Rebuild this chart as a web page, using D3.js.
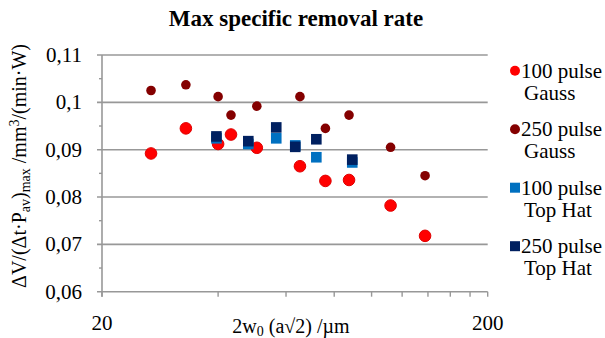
<!DOCTYPE html>
<html><head><meta charset="utf-8">
<script src="https://cdn.jsdelivr.net/npm/d3@7"></script>
<style>body{margin:0;background:#fff}svg{display:block}</style>
</head><body>
<script>
const xGauss = [26.8, 33.0, 40.0, 43.2, 50.4, 65.2, 75.9, 87.4, 112, 137.6];
const y100Gauss = [0.0892, 0.0945, 0.0912, 0.0932, 0.0904, 0.0865, 0.0834, 0.0836, 0.0782, 0.0718];
const y250Gauss = [0.1025, 0.1037, 0.1012, 0.0973, 0.0992, 0.1012, 0.0945, 0.0973, 0.0905, 0.0845];
const xTopHat = [39.6, 47.9, 56.6, 63.4, 71.9, 89.1];
const y100TopHat = [0.0924, 0.0912, 0.0924, 0.0909, 0.0884, 0.0873];
const y250TopHat = [0.0928, 0.0918, 0.0947, 0.0906, 0.0922, 0.0879];
const yTicks = [0.06, 0.07, 0.08, 0.09, 0.1, 0.11];
const yTickLabels = ["0,06", "0,07", "0,08", "0,09", "0,1", "0,11"];
const xTicks = [20, 200];
const xTickLabels = ["20", "200"];
const xMinorTicks = [40, 60, 80, 100, 120, 140, 160, 180];
const seriesNames = [["100 pulse", "Gauss"], ["250 pulse", "Gauss"], ["100 pulse", "Top Hat"], ["250 pulse", "Top Hat"]];

const W = 605, H = 338;
const FONT = "'Liberation Serif', 'Times New Roman', Times, 'DejaVu Serif', serif";
const svg = d3.select("body").append("svg").attr("width", W).attr("height", H)
  .attr("font-family", FONT).style("font-family", FONT);
const x = d3.scaleLog().domain([20, 200]).range([102, 487.7]);
const y = d3.scaleLinear().domain([0.06, 0.11]).range([291.7, 55]);
const grid = "#989898";

// title
svg.append("text").attr("x", 296).attr("y", 26).attr("text-anchor", "middle")
  .attr("font-size", 23).attr("font-weight", "bold").text("Max specific removal rate");

// gridlines
svg.append("g").selectAll("line").data(yTicks).join("line")
  .attr("x1", x(20) - 5).attr("x2", x(200)).attr("y1", d => y(d)).attr("y2", d => y(d))
  .attr("stroke", grid).attr("stroke-width", 1.6);
// minor y ticks
const yMinor = yTicks.slice(0, -1).map(d => d + 0.005);
svg.append("g").selectAll("line").data(yMinor).join("line")
  .attr("x1", x(20) - 3).attr("x2", x(20)).attr("y1", d => y(d)).attr("y2", d => y(d))
  .attr("stroke", grid).attr("stroke-width", 1.4);
// y axis line
svg.append("line").attr("x1", x(20)).attr("x2", x(20)).attr("y1", y(0.11)).attr("y2", y(0.06) + 5)
  .attr("stroke", grid).attr("stroke-width", 1.6);
// x ticks
svg.append("g").selectAll("line").data(xTicks.concat(xMinorTicks)).join("line")
  .attr("x1", d => x(d)).attr("x2", d => x(d)).attr("y1", y(0.06)).attr("y2", y(0.06) + 5)
  .attr("stroke", grid).attr("stroke-width", 1.4);

// y tick labels
svg.append("g").selectAll("text").data(yTicks).join("text")
  .attr("x", 82).attr("y", d => y(d) + 7).attr("text-anchor", "end")
  .attr("font-size", 21).text((d, i) => yTickLabels[i]);
// x tick labels
svg.append("g").selectAll("text").data(xTicks).join("text")
  .attr("x", d => x(d)).attr("y", 330).attr("text-anchor", "middle")
  .attr("font-size", 21).text((d, i) => xTickLabels[i]);

// x axis title
const xt = svg.append("text").attr("x", 291).attr("y", 333).attr("text-anchor", "middle").attr("font-size", 20);
xt.append("tspan").text("2w");
xt.append("tspan").attr("dy", 3).attr("font-size", 14).text("0");
xt.append("tspan").attr("dy", -3).text(" (a√2) /µm");

// y axis title
const yt = svg.append("text").attr("transform", "translate(26,166) rotate(-90)").attr("text-anchor", "middle").attr("font-size", 20);
yt.append("tspan").text("ΔV/(Δt·P");
yt.append("tspan").attr("dy", 4).attr("font-size", 14).text("av");
yt.append("tspan").attr("dy", -4).text(")");
yt.append("tspan").attr("dy", 4).attr("font-size", 14).text("max");
yt.append("tspan").attr("dy", -4).text(" /mm");
yt.append("tspan").attr("dy", -7).attr("font-size", 14).text("3");
yt.append("tspan").attr("dy", 7).text("/(min·W)");

// marks
const clr = { g100: "#ff0000", g250: "#840000", t100: "#0070c0", t250: "#002060" };
svg.append("g").selectAll("circle").data(xGauss).join("circle")
  .attr("cx", d => x(d)).attr("cy", (d, i) => y(y100Gauss[i])).attr("r", 5.8)
  .attr("fill", clr.g100).attr("stroke", "#e00000").attr("stroke-width", 1);
svg.append("g").selectAll("circle").data(xGauss).join("circle")
  .attr("cx", d => x(d)).attr("cy", (d, i) => y(y250Gauss[i])).attr("r", 4.8)
  .attr("fill", clr.g250);
const sq = 10.6;
svg.append("g").selectAll("rect").data(xTopHat).join("rect")
  .attr("x", d => x(d) - sq / 2).attr("y", (d, i) => y(y100TopHat[i]) - sq / 2)
  .attr("width", sq).attr("height", sq).attr("fill", clr.t100);
svg.append("g").selectAll("rect").data(xTopHat).join("rect")
  .attr("x", d => x(d) - sq / 2).attr("y", (d, i) => y(y250TopHat[i]) - sq / 2)
  .attr("width", sq).attr("height", sq).attr("fill", clr.t250);

// legend
const lg = svg.append("g");
const cols = [clr.g100, clr.g250, clr.t100, clr.t250];
seriesNames.forEach((nm, i) => {
  const cy = 70.7 + i * 58.5;
  if (i < 2) lg.append("circle").attr("cx", 515).attr("cy", cy).attr("r", 5).attr("fill", cols[i]);
  else lg.append("rect").attr("x", 510).attr("y", cy - 5).attr("width", 10).attr("height", 10).attr("fill", cols[i]);
  lg.append("text").attr("x", 521).attr("y", cy + 7).attr("font-size", 21).text(nm[0]);
  lg.append("text").attr("x", 524).attr("y", cy + 29).attr("font-size", 21).text(nm[1]);
});
</script>
</body></html>
